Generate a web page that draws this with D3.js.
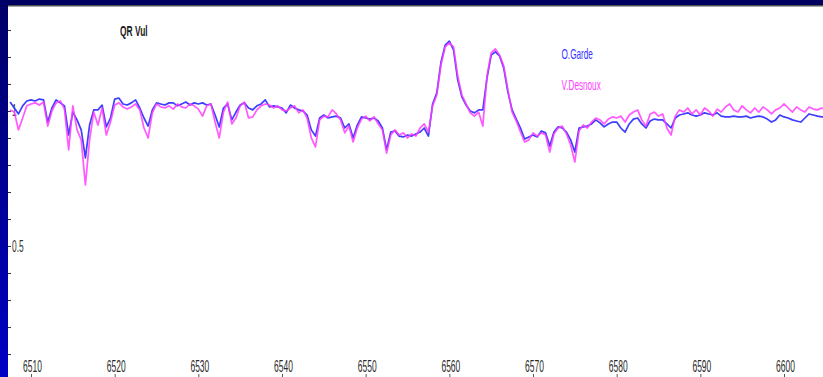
<!DOCTYPE html>
<html>
<head>
<meta charset="utf-8">
<script src="https://cdn.jsdelivr.net/npm/d3@7"></script>
<style>
    html, body { margin: 0; padding: 0; background: #ffffff; overflow: hidden; }
    #chart text { font-family: "Liberation Sans", Arial, sans-serif; }
</style>
</head>
<body>
<div id="chart"></div>
<script>
/*jshint esversion: 6 */

// wavelength grid of the two spectra (Angstrom)
const lambdaStart = 6507.5;
const lambdaStep = 0.5;

// O.Garde spectrum, normalised flux
const gardeFlux = [
    1.033, 1.011, 0.989, 1.019, 1.037, 1.041, 1.037, 1.044, 1.041, 0.959,
    1.011, 1.041, 1.030, 1.019, 0.911, 0.996, 0.967, 0.930, 0.826, 0.948,
    1.004, 1.004, 1.022, 0.941, 0.974, 1.044, 1.048, 1.026, 1.022, 1.030,
    1.041, 1.011, 0.974, 0.944, 1.004, 1.030, 1.026, 1.022, 1.030, 1.030,
    1.019, 1.026, 1.033, 1.022, 1.030, 1.026, 1.030, 1.022, 1.026, 0.985,
    0.941, 1.011, 1.026, 0.967, 0.996, 1.022, 1.030, 1.011, 1.004, 1.019,
    1.026, 1.041, 1.015, 1.019, 1.015, 1.011, 0.993, 1.022, 1.011, 1.004,
    1.000, 0.985, 0.930, 0.907, 0.974, 0.985, 0.974, 0.978, 0.981, 0.974,
    0.937, 0.952, 0.900, 0.948, 0.978, 0.974, 0.970, 0.974, 0.963, 0.937,
    0.856, 0.922, 0.926, 0.907, 0.904, 0.911, 0.907, 0.915, 0.922, 0.937,
    0.907, 1.026, 1.067, 1.181, 1.244, 1.259, 1.226, 1.115, 1.052, 1.022,
    1.000, 0.993, 1.004, 1.004, 1.122, 1.207, 1.219, 1.204, 1.159, 1.070,
    1.004, 0.970, 0.937, 0.896, 0.904, 0.911, 0.904, 0.926, 0.919, 0.870,
    0.922, 0.941, 0.937, 0.922, 0.893, 0.848, 0.937, 0.941, 0.944, 0.952,
    0.967, 0.956, 0.941, 0.952, 0.959, 0.959, 0.937, 0.922, 0.952, 0.970,
    0.974, 0.952, 0.937, 0.963, 0.970, 0.967, 0.967, 0.952, 0.937, 0.974,
    0.985, 0.989, 0.993, 0.985, 0.981, 0.985, 0.993, 0.989, 0.985, 0.993,
    0.981, 0.978, 0.978, 0.981, 0.978, 0.978, 0.981, 0.974, 0.978, 0.981,
    0.978, 0.970, 0.959, 0.967, 0.985, 0.978, 0.974, 0.967, 0.963, 0.959,
    0.974, 0.989, 0.985, 0.981, 0.978, 0.978
];

// V.Desnoux spectrum, normalised flux
const desnouxFlux = [
    1.004, 0.996, 0.930, 0.974, 1.019, 1.026, 1.030, 1.022, 1.033, 0.944,
    1.000, 1.030, 1.037, 1.007, 0.856, 1.019, 0.930, 0.893, 0.726, 0.893,
    0.996, 0.948, 1.011, 0.911, 0.959, 1.022, 1.030, 1.015, 1.007, 1.015,
    1.026, 1.004, 0.937, 0.900, 0.993, 1.026, 1.015, 1.011, 1.019, 1.007,
    1.026, 1.015, 1.011, 1.026, 1.019, 1.007, 0.981, 1.019, 1.026, 0.959,
    0.900, 0.996, 1.033, 0.952, 0.974, 1.019, 1.033, 0.974, 0.978, 1.004,
    1.019, 1.026, 1.022, 1.011, 1.019, 1.004, 1.000, 1.011, 1.019, 0.993,
    1.004, 0.974, 0.900, 0.867, 0.967, 0.981, 0.978, 1.004, 0.989, 0.967,
    0.919, 0.944, 0.885, 0.937, 0.970, 0.981, 0.963, 0.978, 0.952, 0.930,
    0.844, 0.911, 0.930, 0.911, 0.919, 0.900, 0.915, 0.907, 0.937, 0.952,
    0.922, 1.019, 1.059, 1.170, 1.237, 1.252, 1.237, 1.130, 1.059, 1.026,
    0.993, 0.981, 0.996, 0.944, 1.130, 1.215, 1.230, 1.207, 1.167, 1.078,
    0.996, 0.963, 0.922, 0.885, 0.893, 0.919, 0.907, 0.919, 0.911, 0.848,
    0.915, 0.937, 0.944, 0.915, 0.874, 0.811, 0.926, 0.948, 0.937, 0.959,
    0.974, 0.967, 0.952, 0.970, 0.978, 0.974, 0.981, 0.959, 0.985, 0.996,
    1.004, 0.967, 0.944, 0.989, 0.996, 0.981, 0.989, 0.937, 0.911, 0.981,
    1.004, 0.996, 1.011, 0.989, 1.004, 0.985, 1.011, 1.000, 0.981, 1.007,
    0.996, 1.015, 1.026, 1.004, 0.996, 1.019, 1.004, 0.993, 1.011, 0.996,
    1.015, 1.004, 0.989, 1.004, 1.011, 1.026, 1.011, 0.996, 1.015, 1.004,
    0.996, 1.015, 1.007, 1.004, 1.011, 1.004
];

const xTickValues = [6510, 6520, 6530, 6540, 6550, 6560, 6570, 6580, 6590, 6600];
const yTickValues = [0.1, 0.2, 0.3, 0.4, 0.5, 0.6, 0.7, 0.8, 0.9, 1.0, 1.1, 1.2, 1.3];
const yTickLabels = [0.5, 1];

const seriesNames = ["O.Garde", "V.Desnoux"];
const seriesColours = ["#3434ff", "#ff3cff"];

(function () {

    let width = 823, height = 377;
    let plot = { left: 8, top: 7, right: 823, bottom: 377 };

    let svg = d3.select("#chart").append("svg")
        .attr("width", width)
        .attr("height", height);

    // navy frame like the original window
    let defs = svg.append("defs");
    let grad = defs.append("linearGradient")
        .attr("id", "side")
        .attr("x1", 0).attr("y1", 0).attr("x2", 0).attr("y2", 1);
    grad.append("stop").attr("offset", "0%").attr("stop-color", "#000066");
    grad.append("stop").attr("offset", "100%").attr("stop-color", "#0000c4");

    defs.append("clipPath").attr("id", "plotclip")
        .append("rect")
        .attr("x", plot.left).attr("y", plot.top)
        .attr("width", plot.right - plot.left)
        .attr("height", plot.bottom - plot.top);

    svg.append("rect").attr("x", 0).attr("y", 0)
        .attr("width", width).attr("height", 5).attr("fill", "#000060");
    svg.append("rect").attr("x", 0).attr("y", 5)
        .attr("width", width).attr("height", 1).attr("fill", "#505050");
    svg.append("rect").attr("x", 0).attr("y", 6)
        .attr("width", width).attr("height", 1).attr("fill", "#a8a8a8");
    svg.append("rect").attr("x", 0).attr("y", 0)
        .attr("width", plot.left).attr("height", height).attr("fill", "url(#side)");

    let x = d3.scaleLinear().domain([6507.25, 6604.66]).range([plot.left, plot.right]);
    let y = d3.scaleLinear().domain([0.015, 1.385]).range([plot.bottom, plot.top]);

    // y ticks, inward, only a couple labelled
    let yAxis = svg.append("g").attr("class", "y axis")
        .attr("transform", "translate(" + plot.left + ",0)")
        .call(d3.axisRight(y).tickValues(yTickValues).tickSize(3).tickFormat(""));
    yAxis.select(".domain").remove();
    yAxis.selectAll(".tick line").attr("stroke", "#333").attr("stroke-width", 1);

    svg.append("g").selectAll("g")
        .data(yTickLabels)
        .enter().append("g")
        .attr("transform", function (d) { return "translate(12," + (y(d) + 5.5) + ") scale(0.8,1.5)"; })
        .append("text")
        .style("font-size", "10.5px")
        .attr("fill", "#333")
        .text(function (d) { return d; });

    // x ticks: labels with small marks underneath
    let xAxis = svg.append("g").attr("class", "x axis")
        .attr("transform", "translate(0," + plot.bottom + ")")
        .call(d3.axisTop(x).tickValues(xTickValues).tickSize(3).tickFormat(""));
    xAxis.select(".domain").remove();
    xAxis.selectAll(".tick line").attr("stroke", "#555").attr("stroke-width", 1);

    svg.append("g").selectAll("g")
        .data(xTickValues)
        .enter().append("g")
        .attr("transform", function (d) { return "translate(" + (x(d) + 1.5) + ",371.5) scale(0.77,1.55)"; })
        .append("text")
        .attr("text-anchor", "middle")
        .style("font-size", "11px")
        .attr("fill", "#2a2a2a")
        .text(function (d) { return d; });

    // spectra
    let series = [gardeFlux, desnouxFlux];
    let line = d3.line()
        .x(function (d, i) { return x(lambdaStart + i * lambdaStep); })
        .y(function (d) { return y(d); });

    svg.append("g")
        .attr("clip-path", "url(#plotclip)")
        .selectAll("path")
        .data(series)
        .enter().append("path")
        .attr("d", line)
        .attr("fill", "none")
        .attr("stroke", function (d, i) { return seriesColours[i]; })
        .attr("stroke-width", 1.7)
        .attr("stroke-opacity", function (d, i) { return i === 0 ? 0.95 : 0.85; })
        .attr("stroke-linejoin", "round");

    // title
    svg.append("g")
        .attr("transform", "translate(120,36) scale(0.8,1.45)")
        .append("text")
        .style("font-size", "10.5px")
        .style("font-weight", "bold")
        .attr("fill", "#1a1a1a")
        .text("QR Vul");

    // legend
    let legendY = [58.5, 90];
    svg.append("g").selectAll("g")
        .data(seriesNames)
        .enter().append("g")
        .attr("transform", function (d, i) { return "translate(561.5," + legendY[i] + ") scale(0.78,1.35)"; })
        .append("text")
        .style("font-size", "10.5px")
        .attr("fill", function (d, i) { return seriesColours[i]; })
        .text(function (d) { return d; });

})();
</script>
</body>
</html>
